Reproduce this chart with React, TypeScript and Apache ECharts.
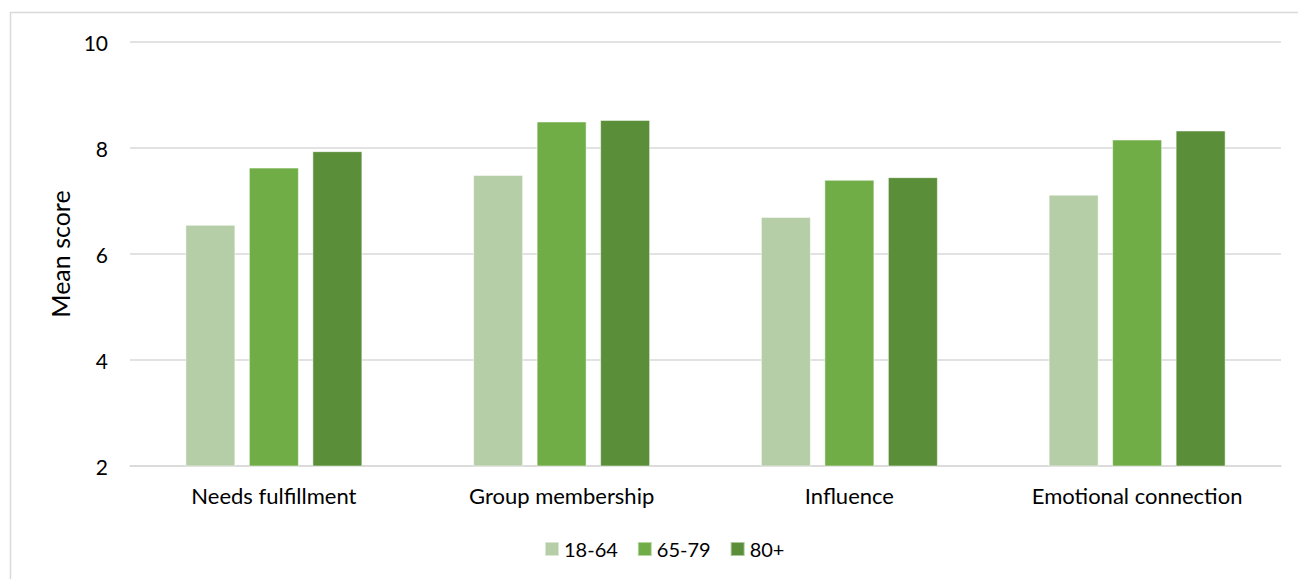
import React, { useEffect, useRef } from "react";
import * as echarts from "echarts";

const categories = ["Needs fulfillment", "Group membership", "Influence", "Emotional connection"];
const seriesNames = ["18-64", "65-79", "80+"];
const values1864 = [6.55, 7.49, 6.7, 7.12];
const values6579 = [7.63, 8.5, 7.4, 8.16];
const values80 = [7.94, 8.53, 7.45, 8.33];
const colors = ["#b5cea8", "#70ad47", "#5b8e39"];

export default function App() {
  const ref = useRef<HTMLDivElement>(null);
  useEffect(() => {
    if (!ref.current) return;
    const chart = echarts.init(ref.current, null, { renderer: "svg" });
    const font = "Lato, 'Open Sans', sans-serif";
    const data = [values1864, values6579, values80];
    chart.setOption({
      animation: false,
      backgroundColor: "#ffffff",
      textStyle: { fontFamily: font },
      graphic: [
        {
          type: "rect",
          shape: { x: 10.5, y: 12.5, width: 1300, height: 600 },
          style: { fill: "none", stroke: "#d9d9d9", lineWidth: 1.5 },
          silent: true,
        },
      ],
      grid: { left: 130, right: 17, top: 42, bottom: 113 },
      legend: {
        data: seriesNames,
        bottom: 15,
        left: 539,
        icon: "rect",
        itemWidth: 14,
        itemHeight: 14,
        itemGap: 19,
        textStyle: { fontFamily: font, fontSize: 20, color: "#000" },
      },
      xAxis: {
        type: "category",
        data: categories,
        axisLine: { lineStyle: { color: "#d9d9d9", width: 1.5 } },
        axisTick: { show: false },
        axisLabel: { fontFamily: font, fontSize: 22, color: "#000", margin: 18 },
      },
      yAxis: {
        type: "value",
        min: 2,
        max: 10,
        interval: 2,
        name: "Mean score",
        nameLocation: "middle",
        nameGap: 58,
        nameRotate: 90,
        nameTextStyle: { fontFamily: font, fontSize: 25, color: "#000" },
        axisLine: { show: false },
        axisTick: { show: false },
        axisLabel: { fontFamily: font, fontSize: 21, color: "#000", margin: 22 },
        splitLine: { lineStyle: { color: "#d9d9d9", width: 1.5 } },
      },
      series: seriesNames.map((name, i) => ({
        name,
        type: "bar",
        data: data[i],
        barWidth: 50,
        barGap: "27%",
        itemStyle: { color: colors[i], borderColor: "rgba(255,255,255,0.5)", borderWidth: 1 },
      })),
    });
    return () => chart.dispose();
  }, []);
  return <div ref={ref} style={{ position: "fixed", left: 0, top: 0, width: 1298, height: 579 }} />;
}
